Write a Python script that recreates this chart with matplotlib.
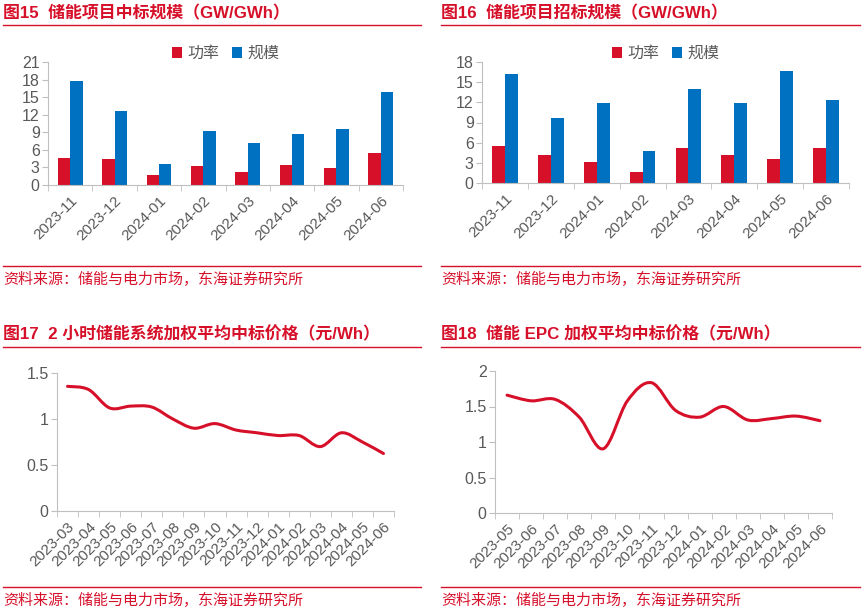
import numpy as np
import matplotlib
matplotlib.use('Agg')
import matplotlib.pyplot as plt
from matplotlib.path import Path
from matplotlib.patches import PathPatch
from matplotlib.lines import Line2D

plt.rcParams['font.family'] = ['Liberation Sans', 'Noto Sans CJK SC', 'DejaVu Sans']

# 数据
meses_bar = ['2023-11', '2023-12', '2024-01', '2024-02', '2024-03', '2024-04', '2024-05', '2024-06']
zb_gonglv = [4.6, 4.4, 1.75, 3.3, 2.2, 3.45, 2.95, 5.5]
zb_guimo = [17.7, 12.6, 3.6, 9.2, 7.15, 8.7, 9.55, 15.8]
cb_gonglv = [5.5, 4.15, 3.1, 1.65, 5.2, 4.15, 3.55, 5.2]
cb_guimo = [16.15, 9.65, 11.85, 4.75, 13.95, 11.85, 16.6, 12.3]

meses_17 = ['2023-03', '2023-04', '2023-05', '2023-06', '2023-07', '2023-08', '2023-09', '2023-10',
            '2023-11', '2023-12', '2024-01', '2024-02', '2024-03', '2024-04', '2024-05', '2024-06']
precio_17 = [1.355, 1.32, 1.12, 1.14, 1.13, 1.0, 0.90, 0.95, 0.88, 0.85, 0.82, 0.82, 0.70, 0.85, 0.75, 0.625]

meses_18 = ['2023-05', '2023-06', '2023-07', '2023-08', '2023-09', '2023-10', '2023-11', '2023-12',
            '2024-01', '2024-02', '2024-03', '2024-04', '2024-05', '2024-06']
precio_18 = [1.66, 1.58, 1.60, 1.35, 0.905, 1.58, 1.835, 1.445, 1.35, 1.50, 1.31, 1.33, 1.365, 1.30]

ROJO = '#D7102A'
AZUL = '#0070C0'
GRIS = '#595959'
EJE = '#BFBFBF'

W, H = 864, 614
fig = plt.figure(figsize=(8.64, 6.14), dpi=100)


def caja(x0, y0, x1, y1):
    # pixeles -> coordenadas de figura
    return [x0 / W, 1 - y1 / H, (x1 - x0) / W, (y1 - y0) / H]


def encabezado(x0, x1, y_txt, y_line, texto):
    fig.text(x0 / W, 1 - y_txt / H, texto, color=ROJO, fontsize=12.2, fontweight='bold', va='center', ha='left')
    fig.add_artist(Line2D([x0 / W, x1 / W], [1 - y_line / H] * 2, color=ROJO, lw=1.0))


def fuente(x0, x1, y_line, y_txt):
    fig.add_artist(Line2D([x0 / W, x1 / W], [1 - y_line / H] * 2, color=ROJO, lw=1.0))
    fig.text(x0 / W, 1 - y_txt / H, '资料来源：储能与电力市场，东海证券研究所', color=ROJO, fontsize=10.8, va='center', ha='left')


def estilo(ax, n, etiquetas, yticks):
    for s in ['top', 'right']:
        ax.spines[s].set_visible(False)
    ax.spines['left'].set_color(EJE)
    ax.spines['bottom'].set_color(EJE)
    ax.set_xlim(-0.5, n - 0.5)
    ax.set_xticks(np.arange(n))
    ax.set_xticklabels(etiquetas, rotation=45, ha='right', rotation_mode='anchor', color=GRIS, fontsize=11)
    ax.tick_params(axis='x', length=0, pad=6)
    ax.set_xticks(np.arange(n + 1) - 0.5, minor=True)
    ax.tick_params(axis='x', which='minor', length=4, color=EJE)
    ax.set_yticks(yticks)
    ax.set_ylim(yticks[0], yticks[-1])
    ax.set_yticklabels([('%g' % v) for v in yticks], color=GRIS, fontsize=11.5)
    ax.tick_params(axis='y', length=4, color=EJE, pad=2)


def barras(ax, a, b, yticks):
    x = np.arange(len(meses_bar))
    w = 0.28
    ax.bar(x - w / 2, a, w, color=ROJO, label='功率')
    ax.bar(x + w / 2, b, w, color=AZUL, label='规模')
    estilo(ax, len(meses_bar), meses_bar, yticks)
    leg = ax.legend(loc='lower center', bbox_to_anchor=(0.5, 0.955), ncol=2, frameon=False, fontsize=11.5,
                    handlelength=0.65, handleheight=0.65, handletextpad=0.3, columnspacing=0.8, borderaxespad=0)
    for t in leg.get_texts():
        t.set_color(GRIS)


def curva(ax, y, color):
    # linea suavizada tipo Excel (Catmull-Rom a Bezier)
    x = np.arange(len(y), dtype=float)
    y = np.asarray(y, dtype=float)
    p = np.column_stack([x, y])
    pe = np.vstack([p[0], p, p[-1]])
    verts = [p[0]]
    codes = [Path.MOVETO]
    for i in range(len(p) - 1):
        p0, p1, p2, p3 = pe[i], pe[i + 1], pe[i + 2], pe[i + 3]
        verts += [p1 + (p2 - p0) / 6, p2 - (p3 - p1) / 6, p2]
        codes += [Path.CURVE4] * 3
    ax.add_patch(PathPatch(Path(verts, codes), fill=False, edgecolor=color, lw=2.2, capstyle='round'))


# 图15
ax1 = fig.add_axes(caja(48, 62, 403, 185))
barras(ax1, zb_gonglv, zb_guimo, [0, 3, 6, 9, 12, 15, 18, 21])
encabezado(3, 421, 13, 25, '图15  储能项目中标规模（GW/GWh）')
fuente(3, 421, 266, 279)

# 图16
ax2 = fig.add_axes(caja(482, 62, 849, 183))
barras(ax2, cb_gonglv, cb_guimo, [0, 3, 6, 9, 12, 15, 18])
encabezado(441, 860, 13, 25, '图16  储能项目招标规模（GW/GWh）')
fuente(441, 860, 266, 279)

# 图17
ax3 = fig.add_axes(caja(57, 373, 394, 511))
curva(ax3, precio_17, ROJO)
estilo(ax3, len(meses_17), meses_17, [0, 0.5, 1, 1.5])
encabezado(3, 421, 334, 347, '图17  2 小时储能系统加权平均中标价格（元/Wh）')
fuente(3, 421, 587, 600)

# 图18
ax4 = fig.add_axes(caja(495, 371, 832, 513))
curva(ax4, precio_18, ROJO)
estilo(ax4, len(meses_18), meses_18, [0, 0.5, 1, 1.5, 2])
encabezado(441, 860, 334, 347, '图18  储能 EPC 加权平均中标价格（元/Wh）')
fuente(441, 860, 587, 600)

fig.savefig('out.png', dpi=100)
